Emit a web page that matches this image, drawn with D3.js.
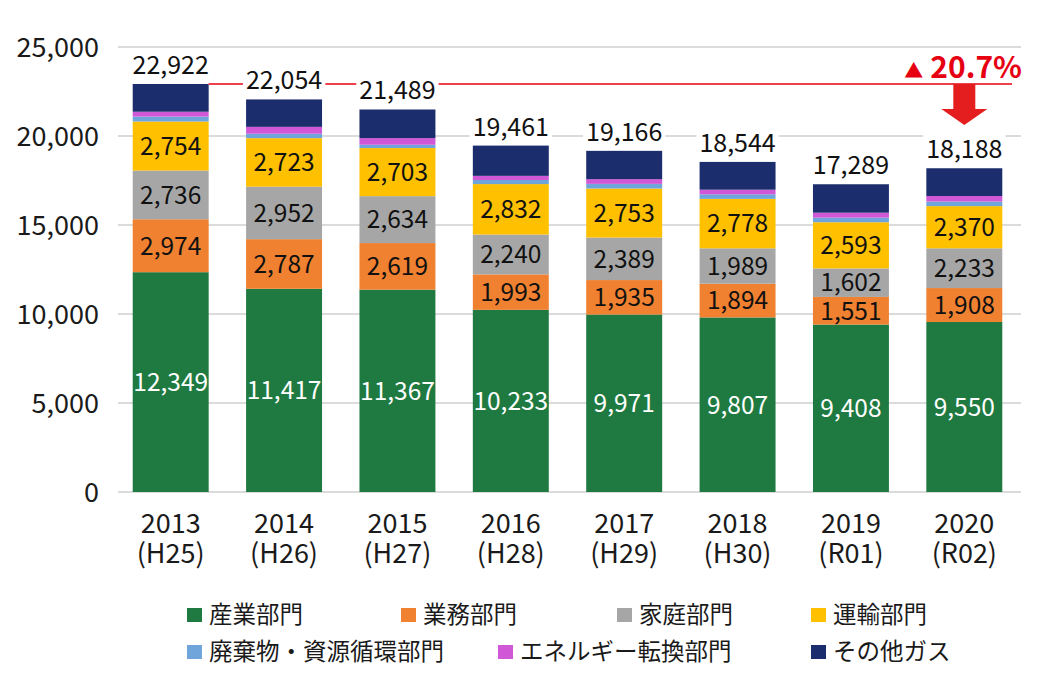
<!DOCTYPE html>
<html><head><meta charset="utf-8">
<script src="https://cdn.jsdelivr.net/npm/d3@7"></script>
<style>
html,body{margin:0;padding:0;background:#fff;}
svg{display:block;font-family:"Noto Sans CJK JP","Noto Sans",sans-serif;}
</style></head>
<body>
<svg id="chart" width="1040" height="684"></svg>
<script>
const years = ["2013","2014","2015","2016","2017","2018","2019","2020"];
const eras = ["(H25)","(H26)","(H27)","(H28)","(H29)","(H30)","(R01)","(R02)"];
const industry   = [12349,11417,11367,10233,9971,9807,9408,9550];
const commercial = [2974,2787,2619,1993,1935,1894,1551,1908];
const household  = [2736,2952,2634,2240,2389,1989,1602,2233];
const transport  = [2754,2723,2703,2832,2753,2778,2593,2370];
const waste      = [275,250,186,231,263,258,260,257];
const energy     = [275,385,370,232,265,258,278,310];
const otherGas   = [1559,1540,1610,1700,1590,1560,1597,1560];
const totals     = [22922,22054,21489,19461,19166,18544,17289,18188];
const seriesNames = ["産業部門","業務部門","家庭部門","運輸部門","廃棄物・資源循環部門","エネルギー転換部門","その他ガス"];
const seriesColors = ["#1f7a41","#f08130","#a6a6a6","#ffc000","#6fa5da","#d057d6","#1b2d6c"];
const yTicks = [0,5000,10000,15000,20000,25000];

const seriesData = [industry,commercial,household,transport,waste,energy,otherGas];
const keys = seriesNames;
const rows = years.map((y,i)=>{const r={year:y,i}; keys.forEach((k,j)=>r[k]=seriesData[j][i]); return r;});

const svg = d3.select("#chart");
const x = d3.scaleBand().domain(years).range([114,1021]).paddingInner(0.33).paddingOuter(0.165);
const y = d3.scaleLinear().domain([0,25000]).range([492,47]);
const color = d3.scaleOrdinal().domain(keys).range(seriesColors);
const fmt = d3.format(",");

// gridlines
svg.append("g").selectAll("line").data(yTicks).join("line")
  .attr("x1",118).attr("x2",1021)
  .attr("y1",d=>y(d)).attr("y2",d=>y(d))
  .attr("stroke","#cfcfcf").attr("stroke-width",1.3);

// y axis labels
const yAxis = d3.axisLeft(y).tickValues(yTicks).tickFormat(fmt).tickSize(0).tickPadding(0);
const ya = svg.append("g").attr("transform","translate(99,0)").call(yAxis);
ya.select(".domain").remove();
ya.selectAll("text").attr("font-size",27).attr("fill","#1a1a1a").attr("font-family",'"Noto Sans CJK JP",sans-serif').attr("dy","0.36em");

// stacked bars
const stacked = d3.stack().keys(keys)(rows);
const layers = svg.append("g").selectAll("g").data(stacked).join("g").attr("fill",d=>color(d.key));
layers.selectAll("rect").data(d=>d).join("rect")
  .attr("x",d=>x(d.data.year)).attr("width",x.bandwidth())
  .attr("y",d=>y(d[1])).attr("height",d=>y(d[0])-y(d[1]));

// inside labels for the four main sectors
stacked.slice(0,4).forEach((layer,li)=>{
  svg.append("g").selectAll("text").data(layer).join("text")
    .attr("x",d=>x(d.data.year)+x.bandwidth()/2)
    .attr("y",d=>(y(d[0])+y(d[1]))/2)
    .attr("dy","0.36em")
    .attr("text-anchor","middle")
    .attr("font-size",24.5)
    .attr("fill",li===0?"#ffffff":"#111")
    .text(d=>fmt(d[1]-d[0]));
});

// reference red line at 2013 total
const refY = y(totals[0]);
svg.append("line").attr("x1",x(years[0])+x.bandwidth()).attr("x2",1012)
  .attr("y1",refY).attr("y2",refY).attr("stroke","#e60012").attr("stroke-width",1.6);

// total labels with white background
const tl = svg.append("g").selectAll("g").data(totals).join("g");
tl.append("text")
  .attr("x",(d,i)=>x(years[i])+x.bandwidth()/2)
  .attr("y",d=>y(d)-10)
  .attr("text-anchor","middle").attr("font-size",25).attr("fill","#111")
  .text(d=>fmt(d))
  .each(function(d,i){
    if(i===0) return;
    const b=this.getBBox();
    d3.select(this.parentNode).insert("rect","text")
      .attr("x",b.x-3).attr("y",b.y+4).attr("width",b.width+6).attr("height",b.height-6)
      .attr("fill","#fff");
  });

// red arrow on last bar
const last = years.length-1;
const cx = x(years[last])+x.bandwidth()/2;
const ay0 = refY, ay1 = refY+25, ay2 = refY+41;
svg.append("path")
  .attr("d",`M${cx-11},${ay0}L${cx+11},${ay0}L${cx+11},${ay1}L${cx+23},${ay1}L${cx},${ay2}L${cx-23},${ay1}L${cx-11},${ay1}Z`)
  .attr("fill","#e41e1e");

// reduction label
const pct = (1 - totals[last]/totals[0])*100;
const pt = svg.append("text").attr("x",1022).attr("y",78).attr("text-anchor","end")
  .attr("fill","#e60012").attr("font-weight","bold");
pt.append("tspan").attr("font-size",19).text("▲");
pt.append("tspan").attr("font-size",30).attr("dx",7).text(pct.toFixed(1)+"%");

// x axis labels (two separate lines)
const xg = svg.append("g");
xg.selectAll("text.yr").data(years).join("text").attr("class","yr")
  .attr("x",d=>x(d)+x.bandwidth()/2).attr("y",533).attr("text-anchor","middle")
  .attr("font-size",27).attr("fill","#1a1a1a").text(d=>d);
xg.selectAll("text.era").data(years).join("text").attr("class","era")
  .attr("x",d=>x(d)+x.bandwidth()/2).attr("y",563).attr("text-anchor","middle")
  .attr("font-size",27).attr("fill","#1a1a1a").text((d,i)=>eras[i]);

// legend
const legendPos = [[187,615],[401,615],[617,615],[811,615],[187,652],[498,652],[811,652]];
const lg = svg.append("g").selectAll("g").data(keys).join("g")
  .attr("transform",(d,i)=>`translate(${legendPos[i][0]},${legendPos[i][1]})`);
lg.append("rect").attr("x",0).attr("y",-7).attr("width",15).attr("height",14).attr("fill",d=>color(d));
lg.append("text").attr("x",22).attr("y",0).attr("dy","0.36em").attr("font-size",23.5).attr("fill","#1a1a1a").text(d=>d);
</script>
</body></html>
